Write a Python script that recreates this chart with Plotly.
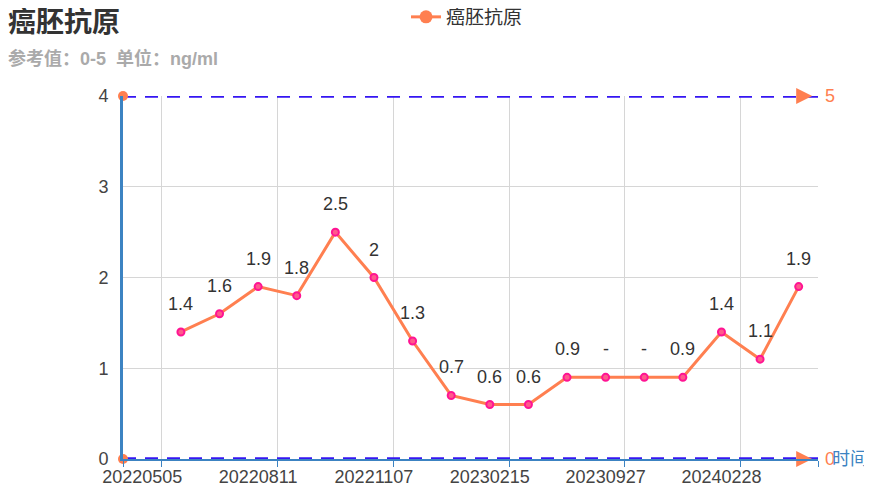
import plotly.graph_objects as go

# categories (only every third date label is visible in the source chart)
tick_pos = [0, 3, 6, 9, 12, 15]
tick_text = ["20220505", "20220811", "20221107", "20230215", "20230927", "20240228"]
n_cats = 18

# series: cat 0 has no value
x_idx = list(range(1, 18))
cea = [1.4, 1.6, 1.9, 1.8, 2.5, 2, 1.3, 0.7, 0.6, 0.6, 0.9, 0.9, 0.9, 0.9, 1.4, 1.1, 1.9]
cea_labels = ["1.4", "1.6", "1.9", "1.8", "2.5", "2", "1.3", "0.7", "0.6", "0.6",
              "0.9", "-", "-", "0.9", "1.4", "1.1", "1.9"]

ref_low, ref_high = 0, 5
y_max = 4

FONT = "Arial, 'Liberation Sans', 'Noto Sans CJK SC', sans-serif"
CORAL = "#ff7f50"
AXIS_BLUE = "#3c83c2"
MARK_BLUE = "#3516f2"

x0, x1 = -0.5, n_cats - 0.5

fig = go.Figure()

# reference range mark lines (clamped to the visible axis)
for val in (ref_high, ref_low):
    yv = min(val, y_max)
    fig.add_trace(go.Scatter(x=[x0, x1], y=[yv, yv], mode="lines",
                             line=dict(color=MARK_BLUE, width=3.5, dash="13px,9px"),
                             showlegend=False, hoverinfo="skip", cliponaxis=False))
    fig.add_trace(go.Scatter(x=[x0], y=[yv], mode="markers",
                             marker=dict(color=CORAL, size=10, symbol="circle"),
                             showlegend=False, hoverinfo="skip", cliponaxis=False))
    fig.add_trace(go.Scatter(x=[x1 - 0.15], y=[yv], mode="markers",
                             marker=dict(color=CORAL, size=16, symbol="arrow-right"),
                             showlegend=False, hoverinfo="skip", cliponaxis=False))
    fig.add_annotation(x=x1, y=yv, text=str(val), showarrow=False, xanchor="left",
                       xshift=5, font=dict(family=FONT, size=18, color=CORAL))

# main series
fig.add_trace(go.Scatter(x=x_idx, y=cea, mode="lines+markers", name="癌胚抗原",
                         line=dict(color=CORAL, width=3),
                         marker=dict(color="#ff5a8a", size=7,
                                     line=dict(color="#ff1493", width=2)),
                         showlegend=False, cliponaxis=False))
# legend entry uses the series colour
fig.add_trace(go.Scatter(x=[None], y=[None], mode="lines+markers", name="癌胚抗原",
                         line=dict(color=CORAL, width=3),
                         marker=dict(color=CORAL, size=13)))

for xi, yi, lab in zip(x_idx, cea, cea_labels):
    fig.add_annotation(x=xi, y=yi, text=lab, showarrow=False, yshift=28,
                       font=dict(family=FONT, size=18, color="#333"))

# titles
fig.add_annotation(x=0, y=1, xref="paper", yref="paper", text="<b>癌胚抗原</b>",
                   showarrow=False, xanchor="left", yanchor="middle",
                   xshift=-117, yshift=74,
                   font=dict(family=FONT, size=28, color="#333"))
fig.add_annotation(x=0, y=1, xref="paper", yref="paper",
                   text="<b>参考值：0-5  单位：ng/ml</b>",
                   showarrow=False, xanchor="left", yanchor="middle",
                   xshift=-117, yshift=38,
                   font=dict(family=FONT, size=18, color="#aaa"))
fig.add_annotation(x=x1, y=0, text="时间", showarrow=False, xanchor="left",
                   xshift=12, font=dict(family=FONT, size=18, color=AXIS_BLUE))

fig.update_layout(
    width=864, height=488,
    margin=dict(l=115, r=54, t=88, b=37, autoexpand=False),
    paper_bgcolor="white", plot_bgcolor="white",
    font=dict(family=FONT, size=18, color="#333"),
    showlegend=True,
    legend=dict(orientation="h", x=0.495, xanchor="center", y=1.2176, yanchor="middle",
                font=dict(family=FONT, size=19, color="#333"),
                itemwidth=30),
    xaxis=dict(range=[x0, x1], tickmode="array", tickvals=tick_pos, ticktext=tick_text,
               showgrid=False, zeroline=False, showline=True, linecolor=AXIS_BLUE,
               linewidth=2, ticks="",
               tickfont=dict(family=FONT, size=18, color="#444"),
               minor=dict(tickmode="array",
                          tickvals=[-0.5, 0.5, 3.5, 6.5, 9.5, 12.5, 15.5, 17.5],
                          showgrid=True, gridcolor="#d6d6d6", gridwidth=1,
                          ticks="outside", ticklen=6, tickcolor=AXIS_BLUE)),
    yaxis=dict(range=[0, y_max], dtick=1, showgrid=True, gridcolor="#d6d6d6",
               zeroline=False, showline=True, linecolor=AXIS_BLUE, linewidth=3,
               ticks="", ticklabelstandoff=8,
               tickfont=dict(family=FONT, size=18, color="#444")),
)

fig.write_html("out.html")
